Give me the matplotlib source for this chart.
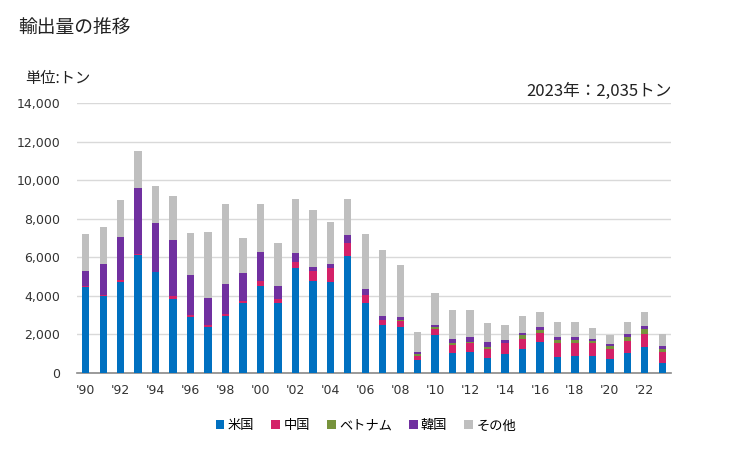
import matplotlib
matplotlib.use("Agg")
import matplotlib.pyplot as plt
from matplotlib.patches import Patch
import numpy as np

plt.rcParams['font.family'] = ['Noto Sans CJK JP', 'DejaVu Sans']

years = list(range(1990, 2024))
usa = [4440, 4000, 4700, 6140, 5230, 3830, 2900, 2380, 2970, 3620, 4510,
       3620, 5430, 4770, 4700, 6050, 3650, 2500, 2370, 700, 1950,
       1040, 1110, 800, 1010, 1220, 1630, 830, 900, 900, 730, 1040, 1360, 520]
china = [70, 20, 140, 50, 0, 170, 100, 110, 100, 100, 240,
         240, 310, 520, 730, 680, 420, 270, 310, 200, 350,
         420, 420, 450, 520, 520, 460, 740, 670, 630, 520, 630, 670, 590]
vietnam = [0, 0, 0, 0, 0, 0, 0, 0, 0, 0, 0,
           0, 0, 0, 0, 0, 0, 0, 50, 60, 70,
           110, 100, 110, 40, 210, 150, 150, 150, 140, 160, 210, 270, 140]
korea = [760, 1630, 2230, 3400, 2560, 2910, 2060, 1390, 1530, 1490, 1550,
         630, 470, 190, 200, 420, 260, 200, 160, 140, 130,
         200, 250, 260, 150, 140, 160, 160, 160, 100, 100, 150, 150, 160]
others = [1950, 1900, 1900, 1900, 1900, 2270, 2210, 3440, 4160, 1810, 2460,
          2240, 2820, 2970, 2200, 1880, 2870, 3400, 2690, 1040, 1670,
          1520, 1410, 990, 780, 880, 780, 780, 780, 580, 470, 630, 730, 625]

series_names = ['米国', '中国', 'ベトナム', '韓国', 'その他']
series = [usa, china, vietnam, korea, others]
colors = ['#0070C0', '#D42168', '#77933C', '#7030A0', '#BFBFBF']

yticks = [0, 2000, 4000, 6000, 8000, 10000, 12000, 14000]
xtick_years = list(range(1990, 2024, 2))
xtick_labels = ["'" + str(y)[2:] for y in xtick_years]

fig = plt.figure(figsize=(7.29, 4.5), dpi=100)
ax = fig.add_axes([77/729, 1 - 373/450, (671-77)/729, (373-103)/450])

x = np.arange(len(years))
bottom = np.zeros(len(years))
for vals, c in zip(series, colors):
    ax.bar(x, vals, width=0.42, bottom=bottom, color=c, zorder=3)
    bottom += np.array(vals)

ax.set_xlim(-0.5, len(years) - 0.5)
ax.set_ylim(0, 14000)
ax.set_yticks(yticks)
ax.set_yticklabels([f"{v:,}" for v in yticks], family='DejaVu Sans', fontsize=9, color='#333333')
ax.set_xticks([years.index(y) for y in xtick_years])
ax.set_xticklabels(xtick_labels, family='DejaVu Sans', fontsize=9, color='#333333')
ax.tick_params(axis='both', length=0)
ax.tick_params(axis='y', pad=12)
ax.tick_params(axis='x', pad=8)
ax.grid(axis='y', color='#D9D9D9', linewidth=1, zorder=0)
for s in ['top', 'right', 'left']:
    ax.spines[s].set_visible(False)
ax.spines['bottom'].set_color('#898989')
ax.spines['bottom'].set_linewidth(1.2)

fig.text(18/729, 1 - 27/450, '輸出量の推移', fontsize=13.5, va='center', ha='left', color='#222222')
fig.text(25/729, 1 - 79/450, '単位:トン', fontsize=11, va='center', ha='left', color='#222222')
fig.text(672/729, 1 - 91/450, '2023年：2,035トン', fontsize=12, va='center', ha='right', color='#222222')

handles = [Patch(facecolor=c, edgecolor='none') for c in colors]
fig.legend(handles, series_names, loc='center', bbox_to_anchor=(366/729, 1 - 426/450),
           ncol=5, frameon=False, fontsize=9.5, handlelength=0.65, handleheight=0.65,
           handletextpad=0.25, columnspacing=1.3)

fig.savefig('out.png', dpi=100)
